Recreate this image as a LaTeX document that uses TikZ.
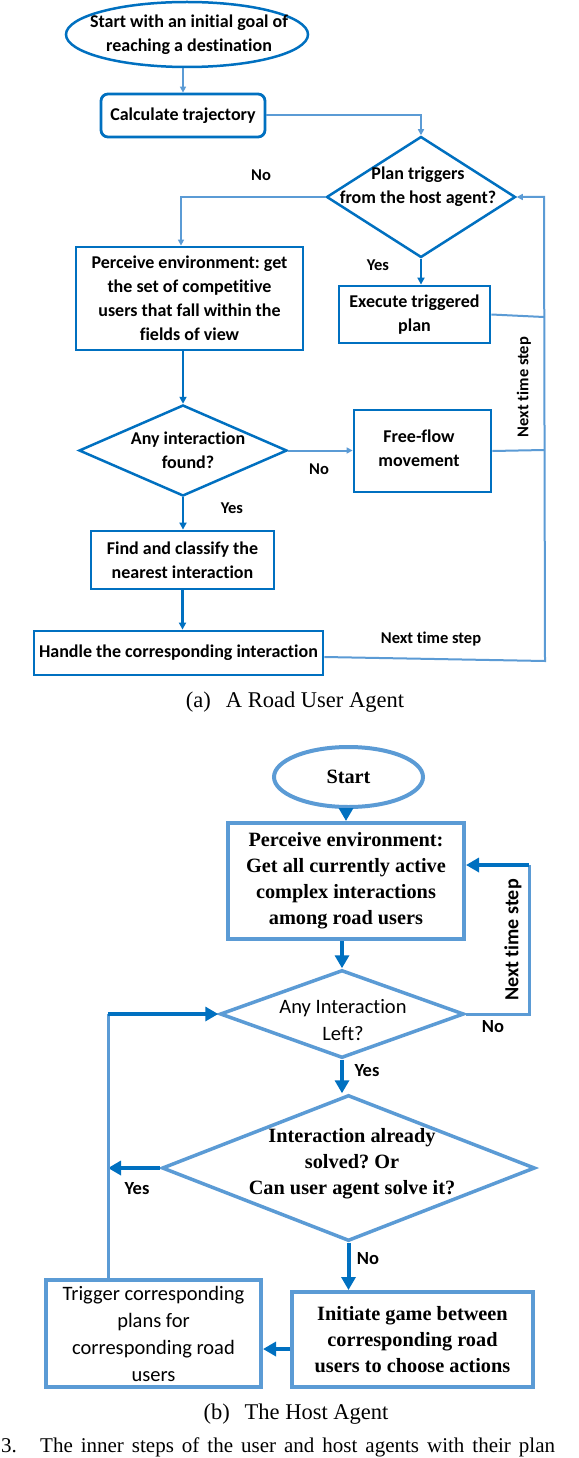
\documentclass[tikz,border=0pt]{standalone}
\usepackage{fontspec}
\setmainfont{Liberation Serif}
\newfontfamily\calib[Ligatures=NoCommon]{Carlito}
\usetikzlibrary{shapes.geometric,arrows.meta}
\definecolor{dblue}{RGB}{0,112,192}
\definecolor{lblue}{RGB}{91,155,213}
\frenchspacing
\tikzset{
  fA/.style={font=\calib\bfseries\fontsize{18}{24}\selectfont},
  lA/.style={font=\calib\bfseries\fontsize{16.5}{20}\selectfont},
  boxA/.style={draw=dblue,line width=2.8pt,rectangle,inner sep=0pt,align=center,fA},
  diaA/.style={draw=dblue,line width=2.5pt,diamond,inner sep=0pt},
  txtA/.style={align=center,fA,inner sep=0pt},
  lconA/.style={draw=lblue,line width=2pt},
  dconA/.style={draw=dblue,line width=2.8pt},
  tipL/.style={-{Triangle[length=6pt,width=6pt]}},
  tipD/.style={-{Triangle[length=7pt,width=7pt]}},
  fBt/.style={font=\bfseries\fontsize{20.3}{26}\selectfont},
  fBs/.style={font=\calib\fontsize{20.5}{27}\selectfont},
  lB/.style={font=\calib\bfseries\fontsize{18.5}{22}\selectfont},
  boxB/.style={draw=lblue,line width=4pt,rectangle,inner sep=0pt,align=center},
  diaB/.style={draw=lblue,line width=3.5pt,diamond,inner sep=0pt},
  lconB/.style={draw=lblue,line width=3pt},
  dconB/.style={draw=dblue,line width=4pt,-{Triangle[length=13pt,width=14pt]}},
  capt/.style={font=\fontsize{22.5}{26}\selectfont,anchor=base,inner sep=0pt},
}
\begin{document}
\begin{tikzpicture}[x=1pt,y=-1pt]
\useasboundingbox (0,0) rectangle (578,1458);
\fill[white] (0,0) rectangle (578,1458);

% ---------------- (a) A Road User Agent ----------------
\node[ellipse,draw=dblue,line width=2.5pt,minimum width=242pt,minimum height=65pt,inner sep=0pt] (sA) at (187,34.5) {};
\node[txtA] (sAt) at (189,35) {Start with an initial goal of\\reaching a destination};
\node[boxA,rounded corners=7pt,minimum width=164pt,minimum height=43pt] (calc) at (183,115.5) {Calculate trajectory};
\node[diaA,minimum width=189pt,minimum height=121pt] (d1) at (421,197) {};
\node[txtA] (d1t) at (418,187) {Plan triggers\\from the host agent?};
\node[boxA,minimum width=227pt,minimum height=103pt] (pA) at (189.5,298.5) {Perceive environment: get\\the set of competitive\\users that fall within the\\fields of view};
\node[boxA,minimum width=151pt,minimum height=57pt] (ex) at (414.5,314.5) {Execute triggered\\plan};
\node[diaA,minimum width=208pt,minimum height=91pt] (d2) at (183,450.5) {};
\node[txtA] (d2t) at (188,450) {Any interaction\\found?};
\node[boxA,minimum width=137pt,minimum height=82pt] (ff) at (422.5,451) {};
\node[txtA] (fft) at (419,448) {Free-flow\\movement};
\node[boxA,minimum width=183pt,minimum height=58pt] (fc) at (182.5,560) {Find and classify the\\nearest interaction};
\node[boxA,minimum width=289pt,minimum height=44pt] (hd) at (178.5,653) {Handle the corresponding interaction};

\node[lA] (noA1) at (261,175) {No};
\node[lA] (yesA1) at (378,265) {Yes};
\node[lA] (noA2) at (319,469) {No};
\node[lA] (yesA2) at (232,508) {Yes};
\node[lA] (ntA1) at (431,639) {Next time step};
\node[lA,rotate=90] (ntA2) at (524,387) {Next time step};

\coordinate (r1) at (544,197);
\coordinate (r2) at (544,317);
\coordinate (r3) at (544,450);
\coordinate (r4) at (545,661);
\coordinate (c1) at (181,197);

\draw[lconA,tipL] (calc.north |- sA.south) -- (calc.north);
\draw[lconA,tipL] (calc.east) -| (d1.north);
\draw[lconA,tipL] (d1.west) -- (c1) -- (c1 |- pA.north);
\draw[dconA,tipD] (d1.south) -- (d1.south |- ex.north);
\draw[dconA,tipD] (d2.north |- pA.south) -- (d2.north);
\draw[lconA,tipL] (d2.east) -- (d2.east -| ff.west);
\draw[dconA,tipD] (d2.south) -- (d2.south |- fc.north);
\draw[dconA,tipD] (fc.south) -- (fc.south |- hd.north);
\draw[lconA,tipL] ([yshift=-4pt]hd.east) -- (r4) -- (r1) -- (d1.east);
\draw[lconA] (ex.east) -- (r2);
\draw[lconA] (ff.east) -- (r3);

\node[capt] (capA) at (295,707.5) {(a)\hspace{15pt}A Road User Agent};

% ---------------- (b) The Host Agent ----------------
\node[ellipse,draw=lblue,line width=4pt,minimum width=149pt,minimum height=60pt,inner sep=0pt] (sB) at (348.5,777) {};
\node[fBt,inner sep=0pt] (sBt) at (348.5,777) {Start};
\node[boxB,fBt,minimum width=236pt,minimum height=116pt] (b1) at (346,881) {Perceive environment:\\Get all currently active\\complex interactions\\among road users};
\node[diaB,minimum width=244pt,minimum height=88pt] (e1) at (342,1014) {};
\node[fBs,align=center,inner sep=0pt] (e1t) at (343,1020) {Any Interaction\\Left?};
\node[diaB,minimum width=373pt,minimum height=146pt] (e2) at (348.5,1168) {};
\node[fBt,align=center,inner sep=0pt] (e2t) at (352,1164) {Interaction already\\solved? Or\\Can user agent solve it?};
\node[boxB,fBs,minimum width=215pt,minimum height=107pt] (tr) at (153.5,1333.5) {Trigger corresponding\\plans for\\corresponding road\\users};
\node[boxB,fBt,minimum width=241pt,minimum height=95pt] (in) at (412.5,1339.5) {Initiate game between\\corresponding road\\users to choose actions};

\node[lB] (noB1) at (493,1027) {No};
\node[lB] (yesB1) at (367,1071) {Yes};
\node[lB] (yesB2) at (137,1189) {Yes};
\node[lB] (noB2) at (368,1259) {No};
\node[lB,font=\calib\bfseries\fontsize{20}{24}\selectfont,rotate=90] (ntB) at (513,940) {Next time step};

\coordinate (rr1) at (529,1014);
\coordinate (rr2) at (529,865);
\coordinate (ll) at (108,1014);
\coordinate (yl) at (108,1168);

\draw[dconB] (b1.north |- sB.south) -- (b1.north);
\draw[dconB] (e1.north |- b1.south) -- (e1.north);
\draw[dconB] (e1.south) -- (e1.south |- e2.north);
\draw[dconB] (e2.south) -- (e2.south |- in.north);
\draw[dconB] (e2.west) -- (yl);
\draw[dconB] ([yshift=-9.5pt]in.west) -- ([yshift=-9.5pt]in.west -| tr.east);
\draw[lconB] (e1.east) -- (rr1) -- (rr2);
\draw[dconB] (rr2) -- (rr2 -| b1.east);
\draw[lconB] (ll |- tr.north) -- (ll);
\draw[dconB] (ll) -- (e1.west);

\node[capt] (capB) at (296,1419) {(b)\hspace{15pt}The Host Agent};
\node[capt,font=\fontsize{21}{24}\selectfont,anchor=base west] (fig) at (1,1452.5) {3.};
\node[capt,font=\fontsize{21}{24}\selectfont,anchor=base west] (figt) at (40,1452.5) {\spaceskip=8pt The inner steps of the user and host agents with their plan};
\end{tikzpicture}
\end{document}
